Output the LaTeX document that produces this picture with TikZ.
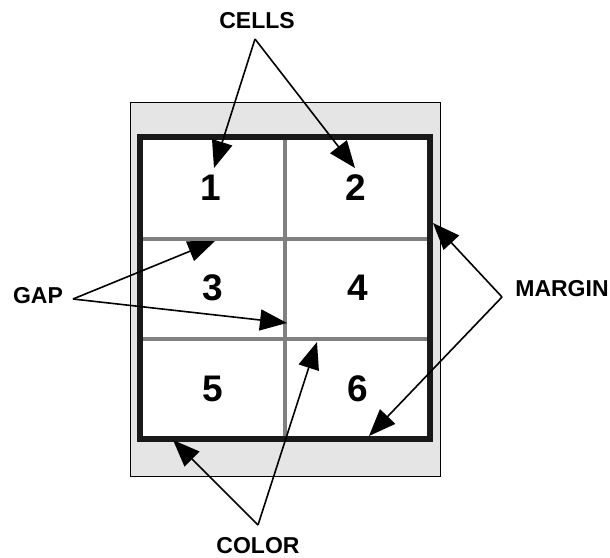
\documentclass[tikz,border=0pt]{standalone}
\usepackage{fontspec}
\setmainfont{Liberation Sans}
\usetikzlibrary{arrows.meta}
\begin{document}
\begin{tikzpicture}[x=1pt,y=-1pt,
  lbl/.style={font=\fontsize{23}{23}\selectfont\bfseries, inner sep=0pt},
  num/.style={font=\fontsize{37}{37}\selectfont\bfseries, inner sep=0pt},
  callout/.style={line width=1.6pt, -{Triangle[length=27pt,width=21pt]}},
  divider/.style={draw=black!50, line width=3.5pt},
]
\useasboundingbox (0,0) rectangle (610,557);
% page background with margin
\draw[fill=black!10, line width=0.8pt] (130,102) rectangle (440,476);
\fill[white] (140,137) rectangle (430,439);
% dividers
\draw[divider] (285,137) -- (285,439);
\draw[divider] (140,239) -- (430,239);
\draw[divider] (140,339) -- (430,339);
% frame
\draw[line width=6pt, draw=black!90] (140,137) rectangle (430,439);
% cell numbers
\node[num] (n1) at (211,188) {1};
\node[num] (n2) at (356,188) {2};
\node[num] (n3) at (213,288) {3};
\node[num] (n4) at (358,288) {4};
\node[num] (n5) at (213,389) {5};
\node[num] (n6) at (358,389) {6};
% labels
\node[lbl] (cells) at (257,21) {CELLS};
\node[lbl] (gap) at (38,296) {GAP};
\node[lbl] (margin) at (562,289) {MARGIN};
\node[lbl] (color) at (258,546) {COLOR};
% apexes and tips
\coordinate (ca) at (255,39);
\coordinate (c1) at (214,168);
\coordinate (c2) at (355,168);
\coordinate (ga) at (73,299);
\coordinate (g1) at (215,241);
\coordinate (g2) at (287,323);
\coordinate (ma) at (502,297);
\coordinate (m1) at (433,223);
\coordinate (m2) at (369,436);
\coordinate (oa) at (258,525);
\coordinate (o1) at (173,440);
\coordinate (o2) at (317,342);
\draw[callout] (ca) -- (c1);
\draw[callout] (ca) -- (c2);
\draw[callout] (ga) -- (g1);
\draw[callout] (ga) -- (g2);
\draw[callout] (ma) -- (m1);
\draw[callout] (ma) -- (m2);
\draw[callout] (oa) -- (o1);
\draw[callout] (oa) -- (o2);
\end{tikzpicture}
\end{document}
